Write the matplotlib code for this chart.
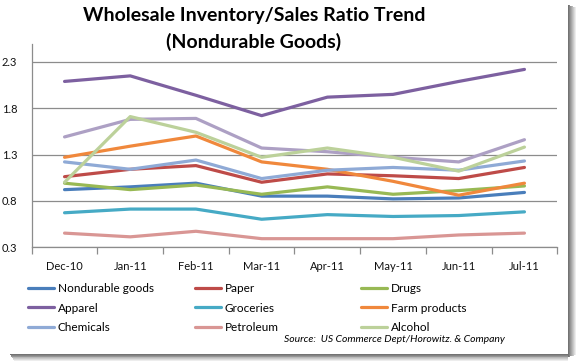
import numpy as np
import matplotlib
matplotlib.use("Agg")
import matplotlib.pyplot as plt
from matplotlib.patches import Rectangle

plt.rcParams['font.family'] = ['Lato', 'DejaVu Sans']

# ---------------- data ----------------
months = ["Dec-10", "Jan-11", "Feb-11", "Mar-11", "Apr-11", "May-11", "Jun-11", "Jul-11"]

nondurable = [0.92, 0.95, 0.99, 0.85, 0.85, 0.82, 0.83, 0.89]
paper = [1.06, 1.14, 1.18, 1.00, 1.09, 1.07, 1.04, 1.16]
drugs = [0.99, 0.92, 0.97, 0.87, 0.95, 0.87, 0.91, 0.96]
apparel = [2.09, 2.15, 1.94, 1.72, 1.92, 1.95, 2.09, 2.22]
groceries = [0.67, 0.71, 0.71, 0.60, 0.65, 0.63, 0.64, 0.68]
farm = [1.27, 1.39, 1.50, 1.22, 1.14, 1.01, 0.86, 0.99]
chemicals = [1.22, 1.14, 1.24, 1.04, 1.13, 1.16, 1.13, 1.23]
petroleum = [0.45, 0.41, 0.47, 0.39, 0.39, 0.39, 0.43, 0.45]
alcohol = [1.00, 1.71, 1.54, 1.27, 1.37, 1.27, 1.12, 1.38]
other = [1.49, 1.68, 1.69, 1.37, 1.33, 1.27, 1.22, 1.46]  # 10th series, not in legend

names = ["Nondurable goods", "Paper", "Drugs", "Apparel", "Groceries",
         "Farm products", "Chemicals", "Petroleum", "Alcohol"]
series = [nondurable, paper, drugs, apparel, groceries, farm, chemicals, petroleum, alcohol]
colors = ["#4A7EBB", "#BE4B48", "#98B954", "#7D60A0", "#46AAC5",
          "#F0883C", "#8FAAD6", "#D99694", "#BCD19A"]

# ---------------- figure ----------------
W, H = 583, 362
fig = plt.figure(figsize=(W / 100, H / 100), dpi=100)
fig.patch.set_facecolor("white")

ax = fig.add_axes([31.7 / W, 1 - 247 / H, (557.3 - 31.7) / W, (247 - 43.5) / H])
x = np.arange(len(months))

handles = []
for vals, name, c in zip(series, names, colors):
    h, = ax.plot(x, vals, color=c, lw=2.3, solid_capstyle="round", label=name)
    handles.append(h)
ax.plot(x, other, color="#ADA0C4", lw=2.3, solid_capstyle="round")
# alcohol drawn over the lavender line
ax.lines[8].set_zorder(3)

ax.set_xlim(-0.5, len(months) - 0.5)
ax.set_ylim(0.3, 2.5)
ax.set_yticks([0.3, 0.8, 1.3, 1.8, 2.3])
ax.set_yticklabels(["0.3", "0.8", "1.3", "1.8", "2.3"])
ax.yaxis.grid(True, color="#8c8c8c", lw=0.9)
ax.set_axisbelow(True)

# category boundaries as tick marks, labels centred on categories
ax.set_xticks(np.arange(len(months) + 1) - 0.5)
ax.set_xticklabels([])
ax.set_xticks(x, minor=True)
ax.set_xticklabels(months, minor=True)
ax.tick_params(axis="x", which="major", length=5, color="#8c8c8c", width=0.9, direction="out")
ax.tick_params(axis="x", which="minor", length=0, pad=10, labelsize=8, labelcolor="#111111")
ax.tick_params(axis="y", length=0, pad=10.5, labelsize=8, labelcolor="#111111")

for s in ["top", "right"]:
    ax.spines[s].set_visible(False)
for s in ["left", "bottom"]:
    ax.spines[s].set_color("#8c8c8c")
    ax.spines[s].set_linewidth(0.9)

# ---------------- title ----------------
fig.text(254 / W, 1 - 15 / H, "Wholesale Inventory/Sales Ratio Trend",
         ha="center", va="center", fontsize=14, fontweight="bold")
fig.text(254 / W, 1 - 42 / H, "(Nondurable Goods)",
         ha="center", va="center", fontsize=14, fontweight="bold")

# ---------------- legend (3 columns, row-major order) ----------------
col_x = [28, 195, 361]
for ci in range(3):
    hs = [handles[r * 3 + ci] for r in range(3)]
    fig.legend(handles=hs, labels=[h.get_label() for h in hs],
               loc="upper left", bbox_to_anchor=(col_x[ci] / W, 1 - 283 / H),
               frameon=False, fontsize=8.5, handlelength=2.2, handletextpad=0.3,
               labelspacing=0.72, borderpad=0, borderaxespad=0)

fig.text(505 / W, 1 - 339 / H, "Source:  US Commerce Dept/Horowitz. & Company",
         ha="right", va="center", fontsize=7.5, style="italic")

# ---------------- drop shadow around chart box ----------------
steps = 8
for i in range(steps):
    g = 0.45 + 0.55 * i / steps
    fig.add_artist(Rectangle(((568 + i) / W, (H - 357 + i * 0.3) / H), 1 / W, (352 - i * 0.6) / H,
                             transform=fig.transFigure, color=str(g), lw=0))
    fig.add_artist(Rectangle(((10 + i * 0.5) / W, (H - 355 - i * 0.8) / H), (558 - i * 0.5) / W, 0.8 / H,
                             transform=fig.transFigure, color=str(g), lw=0))

fig.savefig("out.png", dpi=100, facecolor="white")
